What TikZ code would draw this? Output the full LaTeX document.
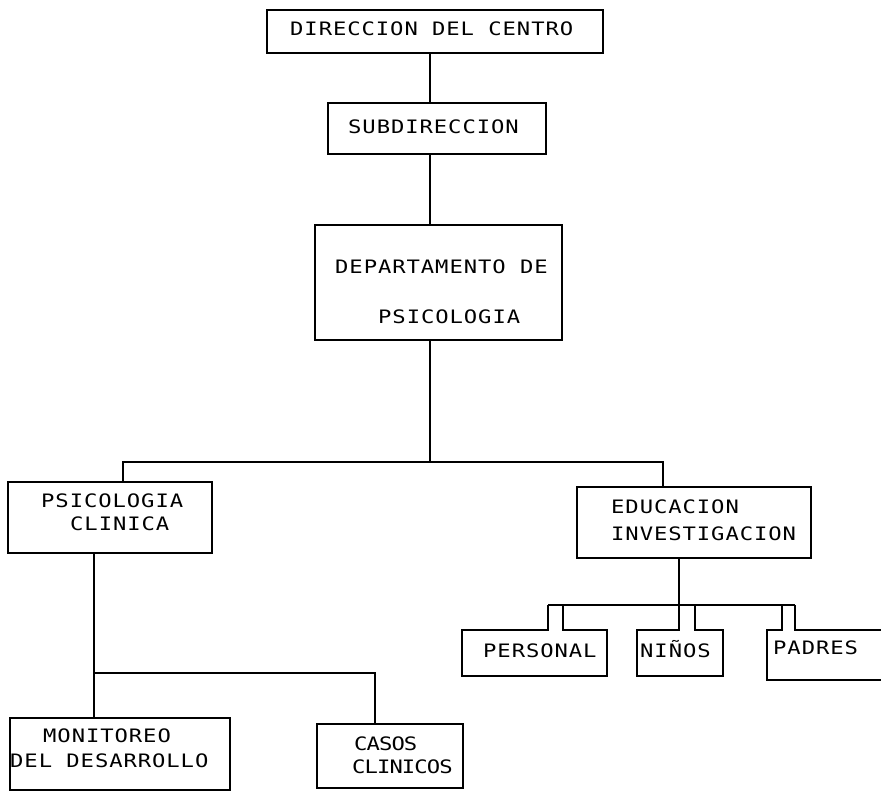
\documentclass[tikz,border=0pt]{standalone}
\usepackage{fontspec}
\newfontfamily\dotfont{DejaVu Sans Mono}[FakeStretch=1.2,LetterSpace=5]
\newfontfamily\dotfontn{DejaVu Sans Mono}[FakeStretch=1.2,LetterSpace=-5]
\begin{document}
\begin{tikzpicture}[x=1pt,y=-1pt,
  boxst/.style={draw=black,line width=1.4pt,rectangle,inner sep=0pt},
  lbl/.style={anchor=base west,inner sep=0pt,font=\dotfont\fontsize{18.5}{21}\selectfont},
  lbln/.style={anchor=base west,inner sep=0pt,font=\dotfontn\fontsize{18.5}{21}\selectfont},
  conn/.style={draw=black,line width=1.4pt},
  gap/.style={draw=white,line width=2.6pt}]
\useasboundingbox (0,0) rectangle (881,793);
% boxes
\node[boxst,minimum width=336pt,minimum height=43pt] (dir) at (435,31.5) {};
\node[boxst,minimum width=218pt,minimum height=51pt] (sub) at (437,128.5) {};
\node[boxst,minimum width=247pt,minimum height=115pt] (dep) at (438.5,282.5) {};
\node[boxst,minimum width=204pt,minimum height=71pt] (psc) at (110,517.5) {};
\node[boxst,minimum width=234pt,minimum height=71pt] (edu) at (694,522.5) {};
\node[boxst,minimum width=145pt,minimum height=46pt] (per) at (534.5,653) {};
\node[boxst,minimum width=86pt,minimum height=46pt] (nin) at (680,653) {};
\node[boxst,minimum width=124pt,minimum height=50pt] (pad) at (829,655) {};
\node[boxst,minimum width=220pt,minimum height=72pt] (mon) at (120,754) {};
\node[boxst,minimum width=146pt,minimum height=64pt] (cas) at (390,756) {};
% labels
\node[lbl] (tdir) at (290,35) {DIRECCION DEL CENTRO};
\node[lbl] (tsub) at (348,133) {SUBDIRECCION};
\node[lbl] (tdep1) at (335,273) {DEPARTAMENTO DE};
\node[lbl] (tdep2) at (378,323) {PSICOLOGIA};
\node[lbl] (tpsc1) at (41,507) {PSICOLOGIA};
\node[lbl] (tpsc2) at (70,530) {CLINICA};
\node[lbl] (tedu1) at (611,513) {EDUCACION};
\node[lbl] (tedu2) at (611,540) {INVESTIGACION};
\node[lbl] (tper) at (483,657) {PERSONAL};
\node[lbl] (tnin) at (640,657) {NIÑOS};
\node[lbl] (tpad) at (773,654) {PADRES};
\node[lbl] (tmon1) at (43,742) {MONITOREO};
\node[lbl] (tmon2) at (10,767) {DEL DESARROLLO};
\node[lbln] (tcas1) at (354,750) {CASOS};
\node[lbln] (tcas2) at (352,773) {CLINICOS};
% coordinates
\coordinate (trunk) at (430,0);
\coordinate (b1L) at (123,462);
\coordinate (b1R) at (663,462);
\coordinate (b2L) at (94,673);
\coordinate (b2R) at (375,673);
\coordinate (b3) at (679,605);
\coordinate (b3L) at (548,605);
\coordinate (b3R) at (795,605);
\coordinate (p1) at (548,0);
\coordinate (p2) at (563,0);
\coordinate (n1) at (679,0);
\coordinate (n2) at (695,0);
\coordinate (d1) at (782,0);
\coordinate (d2) at (795,0);
% gaps in tabbed boxes
\draw[gap] ([xshift=0.8pt]p1 |- per.north) -- ([xshift=-0.8pt]p2 |- per.north);
\draw[gap] ([xshift=0.8pt]n1 |- nin.north) -- ([xshift=-0.8pt]n2 |- nin.north);
\draw[gap] ([xshift=0.8pt]d1 |- pad.north) -- ([xshift=-0.8pt]d2 |- pad.north);
% connectors
\draw[conn] (trunk |- dir.south) -- (trunk |- sub.north);
\draw[conn] (trunk |- sub.south) -- (trunk |- dep.north);
\draw[conn] (trunk |- dep.south) -- (trunk |- b1L);
\draw[conn] (b1L |- psc.north) -- (b1L) -- (b1R) -- (b1R |- edu.north);
\draw[conn] (b2L |- psc.south) -- (b2L |- mon.north);
\draw[conn] (b2L) -- (b2R) -- (b2R |- cas.north);
\draw[conn] (b3 |- edu.south) -- (b3);
\draw[conn] (b3L) -- (b3R);
\draw[conn] (p1 |- b3) -- (p1 |- per.north);
\draw[conn] (p2 |- b3) -- (p2 |- per.north);
\draw[conn] (n1 |- b3) -- (n1 |- nin.north);
\draw[conn] (n2 |- b3) -- (n2 |- nin.north);
\draw[conn] (d1 |- b3) -- (d1 |- pad.north);
\draw[conn] (d2 |- b3) -- (d2 |- pad.north);
\end{tikzpicture}
\end{document}
